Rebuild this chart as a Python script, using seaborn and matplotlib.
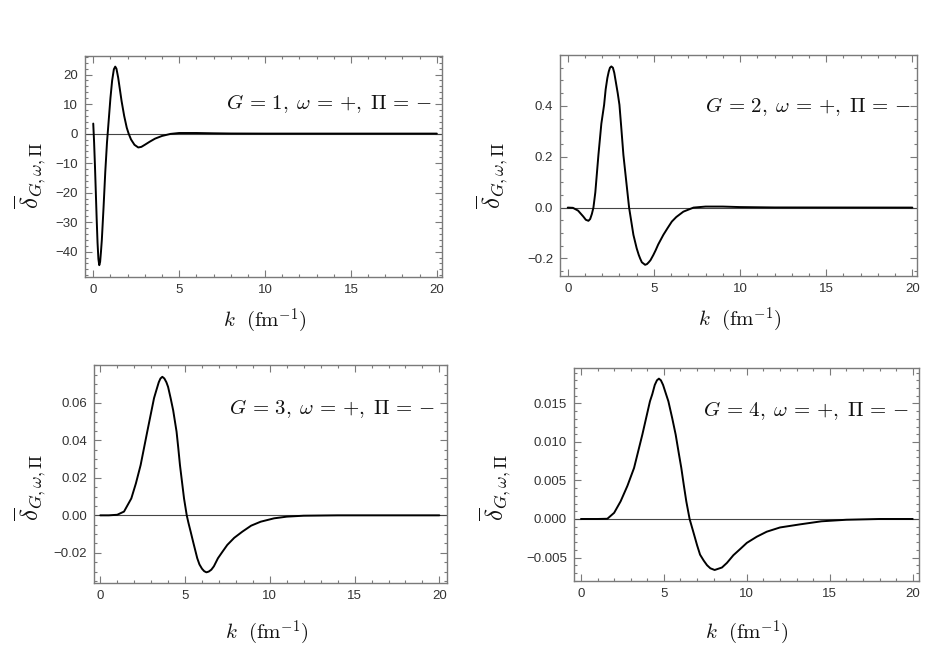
import matplotlib
matplotlib.use("Agg")
import matplotlib.pyplot as plt
from matplotlib.ticker import MultipleLocator
import seaborn as sns

# ---- data ----
k1 = [0, 0.05, 0.1, 0.15, 0.2, 0.25, 0.3, 0.35, 0.4, 0.45, 0.5, 0.6, 0.7, 0.8, 0.84, 0.9,
      1.0, 1.1, 1.2, 1.28, 1.35, 1.45, 1.55, 1.65, 1.8, 1.95, 2.06, 2.2, 2.4, 2.62, 2.8,
      3.0, 3.3, 3.6, 4.0, 4.5, 5.0, 6.0, 7.0, 8.0, 10, 20]
d1 = [3.4, -3, -11, -20, -29, -37, -42.5, -44.6, -43.5, -40, -36, -25, -13, -3, 0, 4.5,
      12, 18, 21.8, 22.7, 22, 19, 15, 11, 6, 2, 0, -2, -3.8, -4.7, -4.5,
      -3.8, -2.7, -1.7, -0.8, -0.1, 0.2, 0.2, 0.1, 0.03, 0, 0]

k2 = [0, 0.3, 0.6, 0.9, 1.05, 1.2, 1.3, 1.4, 1.49, 1.6, 1.78, 1.95, 2.11, 2.2, 2.3, 2.38,
      2.45, 2.53, 2.62, 2.7, 2.8, 2.9, 3.0, 3.1, 3.23, 3.4, 3.56, 3.81, 4.0, 4.12, 4.2,
      4.3, 4.49, 4.6, 4.7, 4.8, 4.97, 5.1, 5.25, 5.4, 5.55, 5.8, 6.04, 6.3, 6.71, 7.3,
      8.0, 9.0, 10, 12, 20]
d2 = [0, -0.001, -0.012, -0.035, -0.048, -0.052, -0.045, -0.025, 0, 0.06, 0.207, 0.33,
      0.404, 0.465, 0.51, 0.535, 0.55, 0.555, 0.55, 0.53, 0.49, 0.45, 0.404, 0.32, 0.207,
      0.1, 0, -0.107, -0.16, -0.186, -0.2, -0.215, -0.225, -0.222, -0.215, -0.207, -0.186,
      -0.168, -0.145, -0.126, -0.107, -0.08, -0.055, -0.037, -0.016, 0, 0.004, 0.004,
      0.002, 0.0005, 0]

k3 = [0, 0.5, 1.0, 1.4, 1.83, 2.1, 2.38, 2.77, 3.17, 3.3, 3.45, 3.55, 3.66, 3.78, 3.9,
      4.0, 4.15, 4.3, 4.5, 4.6, 4.7, 4.94, 5.1, 5.2, 5.33, 5.5, 5.72, 5.85, 6.0, 6.13,
      6.26, 6.4, 6.55, 6.7, 6.94, 7.2, 7.49, 7.9, 8.38, 8.9, 9.46, 10.25, 11, 12, 14, 20]
d3 = [0, 0, 0.0003, 0.002, 0.009, 0.017, 0.0268, 0.0446, 0.0625, 0.0665, 0.071, 0.073,
      0.0739, 0.073, 0.071, 0.0685, 0.0625, 0.056, 0.0446, 0.036, 0.0268, 0.009, 0,
      -0.004, -0.0087, -0.015, -0.0229, -0.0262, -0.0285, -0.0298, -0.0304, -0.030,
      -0.029, -0.0272, -0.0229, -0.0195, -0.0158, -0.012, -0.0087, -0.0055, -0.0034,
      -0.0016, -0.0007, -0.0002, 0, 0]

k4 = [0, 1.0, 1.59, 2.0, 2.39, 2.8, 3.2, 3.7, 4.16, 4.3, 4.45, 4.58, 4.7, 4.82, 4.95,
      5.1, 5.27, 5.5, 5.71, 5.9, 6.05, 6.2, 6.35, 6.55, 6.82, 7.0, 7.18, 7.4, 7.6, 7.8,
      8.06, 8.5, 8.8, 9.19, 9.6, 10.0, 10.6, 11.2, 12.0, 13.2, 14.5, 16, 18, 20]
d4 = [0, 0, 0.00003, 0.0008, 0.00229, 0.0043, 0.00662, 0.01095, 0.01528, 0.0162,
      0.0174, 0.0180, 0.01822, 0.0180, 0.0174, 0.0164, 0.01528, 0.0131, 0.01095, 0.0085,
      0.00662, 0.0044, 0.00229, 0, -0.00203, -0.0034, -0.00463, -0.0054, -0.0060,
      -0.0064, -0.00662, -0.0063, -0.0057, -0.0047, -0.0039, -0.0031, -0.0023, -0.00165,
      -0.0011, -0.0007, -0.0003, -0.0001, 0, 0]

labels = [r"$G\,=\,1,\;\omega\,=\,{+},\;\Pi\,=\,{-}$", r"$G\,=\,2,\;\omega\,=\,{+},\;\Pi\,=\,{-}$",
          r"$G\,=\,3,\;\omega\,=\,{+},\;\Pi\,=\,{-}$", r"$G\,=\,4,\;\omega\,=\,{+},\;\Pi\,=\,{-}$"]
xticks = [0, 5, 10, 15, 20]
yticks = [[20, 10, 0, -10, -20, -30, -40],
          [0.4, 0.2, 0.0, -0.2],
          [0.06, 0.04, 0.02, 0.00, -0.02],
          [0.015, 0.010, 0.005, 0.000, -0.005]]
ytick_fmt = ["{:.0f}", "{:.1f}", "{:.2f}", "{:.3f}"]

# ---- layout / style ----
sns.set_style("ticks")
plt.rcParams["font.family"] = ["Liberation Sans", "DejaVu Sans"]
plt.rcParams["mathtext.fontset"] = "cm"

fig = plt.figure(figsize=(9.26, 6.71), dpi=100)
W, H = 926, 671
boxes = [(85, 56, 442, 277), (560, 55, 917, 276), (94, 365, 447, 583), (574, 368, 919, 581)]
xlims = [(-0.48, 20.3), (-0.45, 20.27), (-0.37, 20.45), (-0.42, 20.38)]
ylims = [(-48.6, 26.3), (-0.269, 0.60), (-0.0361, 0.0802), (-0.00805, 0.0196)]
minors = [2, 0.05, 0.005, 0.001]
txt_pos = [(0.972, 0.787), (0.984, 0.766), (0.966, 0.80), (0.970, 0.80)]
ylab_pos = [(-0.155, 0.46), (-0.190, 0.457), (-0.180, 0.44), (-0.230, 0.44)]
xlab_pos = [(0.504, -0.135), (0.504, -0.135), (0.49, -0.165), (0.50, -0.175)]
series = [(k1, d1), (k2, d2), (k3, d3), (k4, d4)]

frame_col = "#7a7a7a"
for i, ((l, t, r, b), (kx, dy)) in enumerate(zip(boxes, series)):
    ax = fig.add_axes([l / W, 1 - b / H, (r - l) / W, (b - t) / H])
    ax.axhline(0, color="#444444", lw=0.8, zorder=1)
    sns.lineplot(x=kx, y=dy, ax=ax, color="black", lw=1.4, zorder=3)
    ax.set_xlim(*xlims[i])
    ax.set_ylim(*ylims[i])
    ax.set_xticks(xticks)
    ax.set_xticklabels([str(v) for v in xticks])
    ax.set_yticks(yticks[i])
    ax.set_yticklabels([ytick_fmt[i].format(v).replace("-", "\u2212") for v in yticks[i]])
    ax.xaxis.set_minor_locator(MultipleLocator(1))
    ax.yaxis.set_minor_locator(MultipleLocator(minors[i]))
    ax.tick_params(which="both", direction="in", top=True, right=True,
                   color=frame_col, labelcolor="#333333", labelsize=9.5, width=0.8)
    ax.tick_params(which="major", length=5, pad=5)
    ax.tick_params(which="minor", length=2.5)
    for s in ax.spines.values():
        s.set_color(frame_col)
        s.set_linewidth(1.0)
    ax.text(txt_pos[i][0], txt_pos[i][1], labels[i], transform=ax.transAxes,
            ha="right", va="center", fontsize=15, color="#111111")
    ax.set_xlabel(r"$k\ \ (\mathrm{fm}^{-1})$", fontsize=15, color="#111111")
    ax.xaxis.set_label_coords(*xlab_pos[i])
    ax.xaxis.label.set_va("top")
    ax.set_ylabel(r"$\overline{\delta}_{G,\omega,\Pi}$", fontsize=18, color="#111111")
    ax.yaxis.set_label_coords(*ylab_pos[i])
    ax.yaxis.label.set_va("center")

fig.savefig("out.png", dpi=100)
